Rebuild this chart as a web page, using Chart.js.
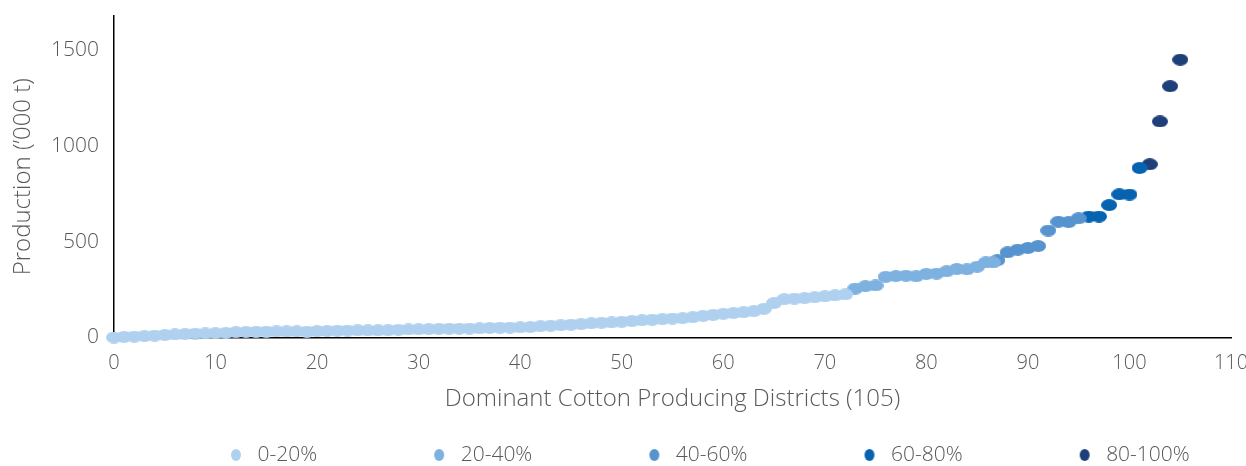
<!DOCTYPE html>
<html>
<head>
<meta charset="utf-8">
<script src="https://cdn.jsdelivr.net/npm/chart.js@4"></script>
<style>
html,body{margin:0;padding:0;background:#fff;}
#wrap{width:1246px;height:466px;position:relative;}
</style>
</head>
<body>
<div id="wrap"><canvas id="c" width="1246" height="466"></canvas></div>
<script>
// ---- data ----
const seriesLabels = ['0-20%', '20-40%', '40-60%', '60-80%', '80-100%'];
const seriesColors = ['#AFD1EF', '#7DB1E0', '#5793CF', '#0663B2', '#1F3F7A'];

const x0to20 = [0,1,2,3,4,5,6,7,8,9,10,11,12,13,14,15,16,17,18,19,20,21,22,23,24,25,26,27,28,29,30,31,32,33,34,35,36,37,38,39,40,41,42,43,44,45,46,47,48,49,50,51,52,53,54,55,56,57,58,59,60,61,62,63,64,65,66,67,68,69,70,71,72];
const y0to20 = [0,3,5,7,10,13,16,18,20,21,22,24,28,29,30,31,32,32,32,31,33,34,35,36,37,37,37,38,40,42,43,44,45,46,46,47,48,50,51,52,53,55,59,62,64,67,70,74,77,79,82,86,90,93,96,99,101,106,113,118,124,128,132,138,150,180,200,203,206,210,215,220,225];

const x20to40 = [73,74,75,76,77,78,79,80,81,82,83,84,85,85.85,86.55];
const y20to40 = [256,268,272,317,321,323,320,332,334,346,358,356,370,392,392];

const x40to60 = [87,88,89,90,91,92,93,94,95];
const y40to60 = [404,445,459,468,478,559,605,603,623];

const x60to80 = [96,97,98,99,100,101];
const y60to80 = [632,632,692,748,747,886];

const x80to100 = [102,103,104,105];
const y80to100 = [905,1129,1313,1452];

const xTicks = [0,10,20,30,40,50,60,70,80,90,100,110];
const yTicks = [0,500,1000,1500];

const xTitle = 'Dominant Cotton Producing Districts (105)';
const yTitle = 'Production (\u2019000 t)';

// ---- helpers ----
function ellipseIcon(color, w, h) {
  const c = document.createElement('canvas');
  c.width = w; c.height = h;
  const g = c.getContext('2d');
  g.fillStyle = color;
  g.beginPath();
  g.ellipse(w / 2, h / 2, w / 2, h / 2, 0, 0, Math.PI * 2);
  g.fill();
  return c;
}
const LEGEND_BOX = 133;
function legendIcon(color) {
  const c = document.createElement('canvas');
  c.width = LEGEND_BOX; c.height = 14;
  const g = c.getContext('2d');
  g.fillStyle = color;
  g.beginPath();
  g.ellipse(LEGEND_BOX - 11, 7, 5, 6, 0, 0, Math.PI * 2);
  g.fill();
  return c;
}

const FAMILY = "'Open Sans', 'Noto Sans', sans-serif";
const XTICK_FONT = { family: FAMILY, size: 20, weight: 300 };
const YTICK_FONT = { family: FAMILY, size: 21, weight: 300 };
const TITLE_FONT = { family: FAMILY, size: 24, weight: 300 };
const LEGEND_FONT = { family: FAMILY, size: 21, weight: 300 };
const TEXT = '#595959';

function build() {
  const pointIcons = seriesColors.map(c => ellipseIcon(c, 16, 12));
  const legendIcons = seriesColors.map(c => legendIcon(c));
  const xs = [x0to20, x20to40, x40to60, x60to80, x80to100];
  const ys = [y0to20, y20to40, y40to60, y60to80, y80to100];

  const datasets = seriesLabels.map((label, i) => ({
    label: label,
    data: xs[i].map((x, j) => ({ x: x, y: ys[i][j] })),
    backgroundColor: seriesColors[i],
    borderColor: seriesColors[i],
    pointStyle: pointIcons[i],
    pointRadius: 7,
    pointHoverRadius: 7,
    clip: false
  }));

  new Chart(document.getElementById('c'), {
    type: 'scatter',
    data: { datasets: datasets },
    options: {
      responsive: false,
      animation: false,
      layout: { padding: { left: 4, right: 15, top: 16, bottom: -9.5 } },
      scales: {
        x: {
          type: 'linear', min: 0, max: 110,
          afterBuildTicks: s => { s.ticks = xTicks.map(v => ({ value: v })); },
          afterFit: s => { s.paddingRight = 14; s.paddingLeft = 0; s.height = 107; },
          ticks: { font: XTICK_FONT, color: TEXT, padding: 14, maxRotation: 0, autoSkip: false,
                   callback: v => String(v) },
          grid: { display: false, drawTicks: false },
          border: { display: true, color: '#000', width: 1.5 },
          title: { display: true, text: xTitle, font: TITLE_FONT, color: TEXT, padding: { top: 4, bottom: 31 } }
        },
        y: {
          type: 'linear', min: 0, max: 1680,
          afterBuildTicks: s => { s.ticks = yTicks.map(v => ({ value: v })); },
          afterFit: s => { s.width = 110; s.paddingTop = 0; s.paddingBottom = 0; },
          ticks: { font: YTICK_FONT, color: TEXT, padding: 15, callback: v => String(v) },
          grid: { display: false, drawTicks: false },
          border: { display: true, color: '#000', width: 1.5 },
          title: { display: true, text: yTitle, font: TITLE_FONT, color: TEXT, padding: { top: 5, bottom: 4 } }
        }
      },
      plugins: {
        tooltip: { enabled: false },
        legend: {
          position: 'bottom',
          fullSize: false,
          align: 'start',
          labels: {
            usePointStyle: true,
            pointStyleWidth: LEGEND_BOX,
            padding: 0,
            font: LEGEND_FONT,
            color: TEXT,
            generateLabels: chart => {
              const items = Chart.defaults.plugins.legend.labels.generateLabels(chart);
              items.forEach((it, i) => { it.pointStyle = legendIcons[i]; });
              return items;
            }
          }
        }
      }
    }
  });
}

let built = false;
function once() { if (!built) { built = true; build(); } }
if (document.fonts && document.fonts.load) {
  Promise.all([
    document.fonts.load('300 20px "Open Sans"'),
    document.fonts.load('300 21px "Open Sans"'),
    document.fonts.load('300 24px "Open Sans"')
  ]).then(once, once);
  setTimeout(once, 1500);
} else {
  once();
}
</script>
</body>
</html>
